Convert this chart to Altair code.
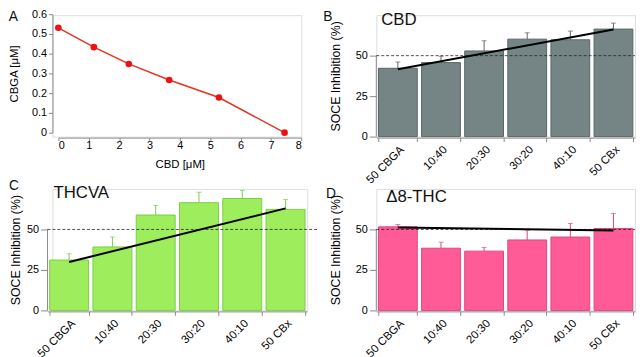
import altair as alt
import pandas as pd

# Panel A data
cbd_conc = [0.0, 1.17, 2.32, 3.65, 5.29, 7.45]
cbga_conc = [0.531, 0.433, 0.348, 0.267, 0.178, 0.0]

# Bar panels
categories = ["50 CBGA", "10:40", "20:30", "30:20", "40:10", "50 CBx"]
cbd_mean = [42.2, 45.7, 52.9, 60.2, 59.8, 66.4]
cbd_err = [3.9, 3.9, 6.3, 3.9, 5.4, 3.7]
thcva_mean = [31.1, 39.2, 58.9, 66.5, 69.1, 62.4]
thcva_err = [3.9, 6.1, 5.9, 6.5, 4.9, 6.1]
d8_mean = [51.6, 38.4, 36.6, 43.5, 45.3, 50.6]
d8_err = [1.4, 3.7, 2.2, 5.9, 8.4, 9.2]
trend_cats = ["50 CBGA", "50 CBx"]
cbd_trend = [41.6, 66.2]
thcva_trend = [29.9, 63.0]
d8_trend = [51.2, 49.4]

FONT = "Liberation Sans"
AX = "#333333"


def label_layer(text, x, y, size, align="center"):
    return alt.Chart(pd.DataFrame({"t": [text]})).mark_text(
        font=FONT, fontSize=size, align=align, baseline="middle", color="#111111"
    ).encode(text="t:N", x=alt.value(x), y=alt.value(y))


def panel_a():
    df = pd.DataFrame({"cbd": cbd_conc, "cbga": cbga_conc})
    x = alt.X("cbd:Q",
              scale=alt.Scale(domain=[0, 8], nice=False, range=[6, 252]),
              axis=alt.Axis(title="CBD [μM]", values=list(range(9)), tickSize=3,
                            labelPadding=-1, offset=1, titlePadding=8, grid=False,
                            labelFontSize=11, titleFontSize=11.5,
                            titleFontWeight="normal"))
    y = alt.Y("cbga:Q",
              scale=alt.Scale(domain=[0, 0.6], nice=False, range=[119, -1]),
              axis=alt.Axis(title="CBGA [μM]", values=[0, 0.1, 0.2, 0.3, 0.4, 0.5, 0.6],
                            format=".1~f", tickSize=4, labelPadding=2, offset=0,
                            titlePadding=12, grid=False, labelFontSize=11,
                            titleFontSize=11.5, titleFontWeight="normal"))
    base = alt.Chart(df).encode(x=x, y=y)
    line = base.mark_line(color="#e2341f", strokeWidth=1.5)
    pts = base.mark_circle(color="#ee1111", opacity=1, size=45)
    return alt.layer(line, pts, label_layer("A", -39.5, 2, 14)).properties(width=252, height=123)


def bar_panel(mean, err, trend, fill, stroke, name, letter, letter_xy, name_xy,
              width, xrange, yoff, title_pad, dash_x2):
    df = pd.DataFrame({"cat": categories, "mean": mean, "err": err})
    tdf = pd.DataFrame({"cat": trend_cats, "mean": trend})
    xscale = alt.Scale(domain=categories, paddingInner=0.1, paddingOuter=0.05, range=xrange)
    xaxis = alt.Axis(title=None, labelAngle=-45, tickBand="extent", tickSize=4,
                     labelPadding=2, offset=1, grid=False, labelFontSize=11.5)
    x = alt.X("cat:N", sort=categories, scale=xscale, axis=xaxis)
    yscale = alt.Scale(domain=[0, 75], nice=False)
    yaxis = alt.Axis(title="SOCE Inhibition (%)", values=[0, 25, 50], domain=False,
                     tickSize=7, labelPadding=2, offset=yoff, titlePadding=title_pad,
                     grid=False, labelFontSize=11, titleFontSize=12.5,
                     titleFontWeight="normal")
    y = alt.Y("mean:Q", scale=yscale, axis=yaxis)

    base = alt.Chart(df).transform_calculate(top="datum.mean + datum.err")
    bars = base.mark_bar(fill=fill, stroke=stroke, strokeWidth=1).encode(x=x, y=y)
    ebar = base.mark_rule(color=stroke, strokeWidth=1).encode(
        x=x, y=y, y2="top:Q")
    ecap = base.mark_tick(color=stroke, size=5, thickness=1).encode(
        x=x, y=alt.Y("top:Q", scale=yscale, axis=yaxis))
    ref = alt.Chart(pd.DataFrame({"v": [50]})).mark_rule(
        color="#222222", strokeDash=[3, 2], strokeWidth=0.8).encode(
        y=alt.Y("v:Q", scale=yscale, axis=yaxis), x=alt.value(-yoff), x2=alt.value(dash_x2))
    yline = alt.Chart(pd.DataFrame({"a": [0], "b": [50]})).mark_rule(
        color="#8a8a8a", strokeWidth=1).encode(
        y=alt.Y("a:Q", scale=yscale, axis=yaxis), y2="b:Q", x=alt.value(-yoff))
    trend_line = alt.Chart(tdf).mark_line(color="#000000", strokeWidth=2).encode(
        x=x, y=y)
    return alt.layer(
        yline, bars, ebar, ecap, ref, trend_line,
        label_layer(letter, letter_xy[0], letter_xy[1], 14),
        label_layer(name, name_xy[0], name_xy[1], 17, align="left"),
    ).properties(width=width, height=123)


a = panel_a()
b = bar_panel(cbd_mean, cbd_err, cbd_trend, "#758585", "#596666", "CBD", "B",
              (-49, 2), (5, 5), 262, [0, 262], 0, 13, 262)
c = bar_panel(thcva_mean, thcva_err, thcva_trend, "#9ded5c", "#7ccd48", "THCVA", "C",
              (-39, -3), (1, 4), 258, [-5, 258], 5, 4, 268)
d = bar_panel(d8_mean, d8_err, d8_trend, "#ff5b97", "#e0467c", "Δ8-THC", "D",
              (-46, 5.5), (10, 8), 262, [0, 262], 0, 13, 262)

chart = alt.concat(
    a, b, c, d, columns=2,
    spacing=alt.RowColnumber(row=53, column=70),
    bounds="flush", align="each",
    padding={"top": -3, "left": 0, "right": 0, "bottom": 0},
).configure_view(stroke=None).configure_axis(
    labelFont=FONT, titleFont=FONT, titleFontWeight="normal", labelColor="#222222",
    titleColor="#222222", domainColor=AX, tickColor=AX,
).configure(background="white")

chart.save("out.html", embed_options={"renderer": "svg", "actions": False})
